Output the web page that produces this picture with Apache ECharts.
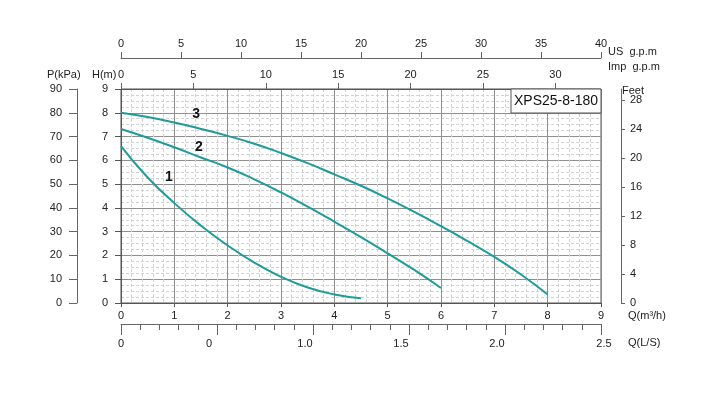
<!DOCTYPE html>
<html>
<head>
<meta charset="utf-8">
<script src="https://cdn.jsdelivr.net/npm/echarts@6/dist/echarts.min.js"></script>
<style>
html,body{margin:0;padding:0;background:#fff;}
#chart{width:704px;height:397px;}
</style>
</head>
<body>
<div id="chart"></div>
<script>
// ---- data ----
const curve1Q = [0, 0.5, 1, 1.5, 2, 2.5, 3, 3.5, 4, 4.5];
const curve1H = [6.6, 5.28, 4.2, 3.25, 2.42, 1.7, 1.1, 0.65, 0.36, 0.2];
const curve2Q = [0, 0.5, 1, 1.5, 2, 2.5, 3, 3.5, 4, 4.5, 5, 5.5, 6];
const curve2H = [7.32, 6.95, 6.55, 6.12, 5.7, 5.2, 4.65, 4.05, 3.42, 2.77, 2.09, 1.39, 0.63];
const curve3Q = [0, 0.5, 1, 1.5, 2, 2.5, 3, 3.5, 4, 4.5, 5, 5.5, 6, 6.5, 7, 7.5, 8];
const curve3H = [8.0, 7.82, 7.59, 7.32, 7.03, 6.7, 6.31, 5.88, 5.41, 4.93, 4.4, 3.83, 3.23, 2.6, 1.94, 1.2, 0.36];
const curveNames = ['1', '2', '3'];
const curveLabelPos = [[0.9, 5.3], [1.46, 6.56], [1.41, 7.95]];
const lsTickValues = [0, 0.5, 1, 1.5, 2, 2.5];
const lsTickLabels = ['0', '0', '1.0', '1.5', '2.0', '2.5'];
const modelName = 'XPS25-8-180';

const FONT = '"Liberation Sans", Arial, sans-serif';
const TXT = '#222';
const AX = '#666';
const lineColor = '#1e9b9b';

function pairs(q, h) { return q.map((v, i) => [v, h[i]]); }

const chart = echarts.init(document.getElementById('chart'), null, {renderer: 'canvas'});

const lbl = {color: TXT, fontFamily: FONT, fontSize: 11};

const series = [[curve1Q, curve1H], [curve2Q, curve2H], [curve3Q, curve3H]].map((c, i) => ({
  type: 'line',
  name: curveNames[i],
  data: pairs(c[0], c[1]),
  smooth: 0.5,
  showSymbol: false,
  symbol: 'none',
  lineStyle: {color: lineColor, width: 2},
  xAxisIndex: 0, yAxisIndex: 0,
  markPoint: {
    symbol: 'circle', symbolSize: 0,
    label: {show: true, formatter: curveNames[i], color: '#111', fontFamily: FONT, fontSize: 14, fontWeight: 'bold', position: 'inside'},
    data: [{coord: curveLabelPos[i]}]
  },
  z: 5
}));

const option = {
  animation: false,
  backgroundColor: '#fff',
  grid: {left: 121, top: 89, width: 480, height: 214, show: true, borderColor: '#555', borderWidth: 1, backgroundColor: '#fff'},
  xAxis: [
    { // m3/h
      type: 'value', position: 'bottom', min: 0, max: 9, interval: 1,
      axisLine: {show: true, onZero: false, lineStyle: {color: '#555'}},
      axisTick: {show: true, length: 4, lineStyle: {color: '#555'}},
      axisLabel: Object.assign({margin: 7}, lbl),
      splitLine: {show: true, lineStyle: {color: '#8f8f8f', width: 1}},
      minorTick: {show: false, splitNumber: 5},
      minorSplitLine: {show: true, lineStyle: {color: '#d2d2d2', width: 1, type: [3, 2]}}
    },
    { // Imp gpm
      type: 'value', position: 'top', min: 0, max: 33.15, interval: 5,
      axisLine: {show: true, onZero: false, lineStyle: {color: '#555'}},
      axisTick: {show: true, length: 6, lineStyle: {color: AX}},
      axisLabel: Object.assign({margin: 9, showMaxLabel: false}, lbl),
      splitLine: {show: false}
    },
    { // US gpm
      type: 'value', position: 'top', offset: 31, min: 0, max: 40, interval: 5,
      axisLine: {show: true, onZero: false, lineStyle: {color: AX}},
      axisTick: {show: true, length: 6, lineStyle: {color: AX}},
      axisLabel: Object.assign({margin: 9}, lbl),
      splitLine: {show: false}
    },
    { // L/S
      type: 'value', position: 'bottom', offset: 21, min: 0, max: 2.5, interval: 0.5,
      axisLine: {show: true, onZero: false, lineStyle: {color: AX}},
      axisTick: {show: true, length: 11, lineStyle: {color: AX}},
      minorTick: {show: true, splitNumber: 5, length: 6, lineStyle: {color: AX}},
      axisLabel: Object.assign({
        margin: 14,
        formatter: function (v) {
          const idx = lsTickValues.findIndex(t => Math.abs(t - v) < 1e-6);
          if (idx < 0) return '';
          if (idx === 0) return lsTickLabels[idx];
          if (idx === lsTickValues.length - 1) return '{r|' + lsTickLabels[idx] + '}';
          return '{l|' + lsTickLabels[idx] + '}';
        },
        rich: {
          l: {padding: [0, 16, 0, 0], color: TXT, fontFamily: FONT, fontSize: 11},
          r: {padding: [0, 0, 0, 6], color: TXT, fontFamily: FONT, fontSize: 11}
        }
      }, lbl),
      splitLine: {show: false}
    }
  ],
  yAxis: [
    { // H(m)
      type: 'value', position: 'left', min: 0, max: 9, interval: 1,
      axisLine: {show: true, onZero: false, lineStyle: {color: '#555'}},
      axisTick: {show: true, length: 6, lineStyle: {color: '#555'}},
      axisLabel: Object.assign({margin: 13}, lbl),
      splitLine: {show: true, lineStyle: {color: '#8f8f8f', width: 1}},
      minorTick: {show: false, splitNumber: 4},
      minorSplitLine: {show: true, lineStyle: {color: '#d2d2d2', width: 1, type: [3, 2]}}
    },
    { // P(kPa)
      type: 'value', position: 'left', offset: 44, min: 0, max: 90, interval: 10,
      axisLine: {show: true, onZero: false, lineStyle: {color: AX}},
      axisTick: {show: true, length: 8, lineStyle: {color: AX}},
      axisLabel: Object.assign({margin: 15}, lbl),
      splitLine: {show: false}
    },
    { // Feet
      type: 'value', position: 'right', offset: 20, min: 0, max: 29.53, interval: 4,
      axisLine: {show: true, onZero: false, lineStyle: {color: AX}},
      axisTick: {show: true, length: 4, lineStyle: {color: AX}},
      axisLabel: Object.assign({margin: 9, showMaxLabel: false}, lbl),
      splitLine: {show: false}
    }
  ],
  graphic: [
    {type: 'text', left: 47, top: 69, style: {text: 'P(kPa)', fill: TXT, font: '11px ' + FONT}},
    {type: 'text', left: 92, top: 69, style: {text: 'H(m)', fill: TXT, font: '11px ' + FONT}},
    {type: 'text', left: 608, top: 46, style: {text: 'US  g.p.m', fill: TXT, font: '11px ' + FONT}},
    {type: 'text', left: 608, top: 61, style: {text: 'Imp  g.p.m', fill: TXT, font: '11px ' + FONT}},
    {type: 'text', left: 622, top: 85, style: {text: 'Feet', fill: TXT, font: '11px ' + FONT}},
    {type: 'text', left: 628, top: 310, style: {text: 'Q(m³/h)', fill: TXT, font: '11px ' + FONT}},
    {type: 'text', left: 628, top: 337, style: {text: 'Q(L/S)', fill: TXT, font: '11px ' + FONT}},
    {type: 'rect', shape: {x: 511, y: 89, width: 90, height: 24}, style: {fill: '#fff', stroke: '#555', lineWidth: 1}, z: 10},
    {type: 'text', x: 556, y: 101.5, style: {text: modelName, fill: '#111', font: '14px ' + FONT, align: 'center', verticalAlign: 'middle'}, z: 11}
  ],
  series: series
};
chart.setOption(option);
</script>
</body>
</html>
